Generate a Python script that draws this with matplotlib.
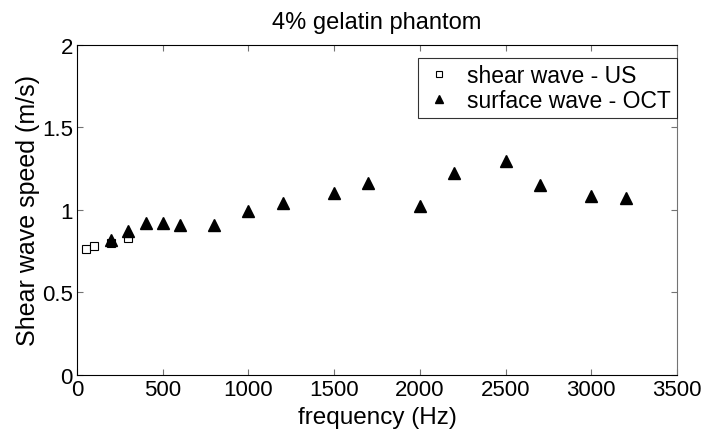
import matplotlib
matplotlib.use('Agg')
import matplotlib.pyplot as plt

plt.rcParams['font.family'] = ['Liberation Sans', 'DejaVu Sans']

# shear wave - US
us_freq = [50, 100, 200, 300]
us_speed = [0.76, 0.78, 0.80, 0.83]

# surface wave - OCT
oct_freq = [200, 300, 400, 500, 600, 800, 1000, 1200, 1500, 1700,
            2000, 2200, 2500, 2700, 3000, 3200]
oct_speed = [0.82, 0.87, 0.92, 0.92, 0.91, 0.91, 0.99, 1.04, 1.10, 1.16,
             1.02, 1.225, 1.295, 1.15, 1.085, 1.07]

fig = plt.figure(figsize=(7.04, 4.31), dpi=100)
ax = fig.add_axes([0.1094, 0.1276, 0.8522, 0.7668])

ax.plot(us_freq, us_speed, 's', mfc='white', mec='black', ms=6, mew=0.8,
        label='shear wave - US')
ax.plot(oct_freq, oct_speed, '^', color='black', ms=8.5,
        label='surface wave - OCT')

ax.set_xlim(0, 3500)
ax.set_ylim(0, 2)
ax.set_xticks([0, 500, 1000, 1500, 2000, 2500, 3000, 3500])
ax.set_yticks([0, 0.5, 1, 1.5, 2])
ax.set_yticklabels(['0', '0.5', '1', '1.5', '2'])
ax.tick_params(direction='in', top=True, right=True, labelsize=16,
               length=4, color='0.45', pad=3)
for s in ax.spines.values():
    s.set_linewidth(0.8)
ax.spines['right'].set_color('0.45')

ax.set_xlabel('frequency (Hz)', fontsize=17.5, labelpad=4)
ax.set_ylabel('Shear wave speed (m/s)', fontsize=18, labelpad=1)
ax.set_title('4% gelatin phantom', fontsize=17, pad=12)

leg = ax.legend(loc='upper right', bbox_to_anchor=(1.0, 0.958),
                borderaxespad=0, fontsize=16.5, frameon=True, fancybox=False,
                edgecolor='black', handlelength=1.3, handletextpad=0.6,
                borderpad=0.25, labelspacing=0.1, markerscale=0.7)
leg.get_frame().set_linewidth(0.8)

fig.savefig('out.png', dpi=100)
